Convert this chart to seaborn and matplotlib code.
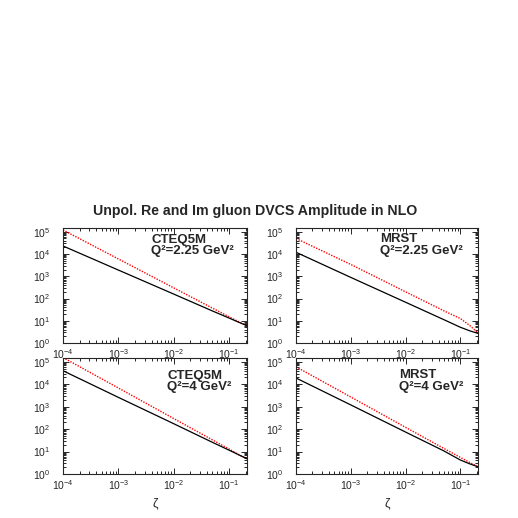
import matplotlib
matplotlib.use('Agg')
import matplotlib.pyplot as plt
import seaborn as sns
import pandas as pd
import numpy as np
from matplotlib.ticker import LogLocator, NullFormatter

# ── Data ─────────────────────────────────────────────────
zeta = [1e-4, 1e-3, 1e-2, 0.05, 0.1, 0.15, 0.21]

cteq_225_im = [2.3e4, 1.9e3, 158, 27.5, 13.2, 8.5, 6.0]
cteq_225_re = [1.2e5, 6.0e3, 300, 37, 15, 8.9, 6.0]
mrst_225_im = [1.2e4, 890, 68, 11.2, 5.1, 3.5, 2.7]
mrst_225_re = [5.0e4, 3400, 200, 28, 12.6, 6.0, 2.8]
cteq_4_im = [4.0e4, 2.6e3, 174, 25.7, 11.5, 7.1, 4.8]
cteq_4_re = [1.55e5, 6.8e3, 295, 33, 12.9, 7.2, 4.8]
mrst_4_im = [1.9e4, 1.2e3, 74, 10.7, 4.2, 2.8, 2.1]
mrst_4_re = [6.0e4, 2.7e3, 120, 13.8, 5.5, 3.2, 2.1]

panels = [
    ('CTEQ5M', '2.25', cteq_225_im, cteq_225_re),
    ('MRST', '2.25', mrst_225_im, mrst_225_re),
    ('CTEQ5M', '4', cteq_4_im, cteq_4_re),
    ('MRST', '4', mrst_4_im, mrst_4_re),
]

sns.set_theme(style='ticks')
plt.rcParams['font.family'] = ['Liberation Sans', 'DejaVu Sans']
plt.rcParams['mathtext.default'] = 'regular'

fig = plt.figure(figsize=(5.18, 5.18), dpi=100)
W = 518.0
# axes boxes in pixels: left, top, right, bottom
boxes = [(63, 228, 247, 343), (296, 228, 478, 343),
         (63, 358, 247, 474), (296, 358, 478, 474)]
# label block top-left (pixels)
label_pos = [(151, 233.5), (380, 233.5), (167, 369.5), (399, 369.5)]

for i, (pdf, q2, im, re) in enumerate(panels):
    l, t, r, b = boxes[i]
    ax = fig.add_axes([l / W, (W - b) / W, (r - l) / W, (b - t) / W])
    df = pd.DataFrame({'zeta': zeta, 'Im': im, 'Re': re})
    sns.lineplot(data=df, x='zeta', y='Re', ax=ax, color='red',
                 linestyle=(0, (1, 1)), linewidth=1.0)
    sns.lineplot(data=df, x='zeta', y='Im', ax=ax, color='black',
                 linewidth=0.9)
    ax.set_xscale('log')
    ax.set_yscale('log')
    ax.set_xlim(1e-4, 0.21)
    ax.set_ylim(1, 10 ** 5.17)
    ax.xaxis.set_major_locator(LogLocator(base=10, numticks=10))
    ax.xaxis.set_minor_locator(LogLocator(base=10, subs=np.arange(2, 10), numticks=20))
    ax.yaxis.set_major_locator(LogLocator(base=10, numticks=10))
    ax.yaxis.set_minor_locator(LogLocator(base=10, subs=np.arange(2, 10), numticks=20))
    ax.xaxis.set_minor_formatter(NullFormatter())
    ax.yaxis.set_minor_formatter(NullFormatter())
    ax.tick_params(which='both', direction='in', top=True, right=True,
                   labelsize=7.5, width=0.7)
    ax.tick_params(axis='x', pad=3)
    ax.tick_params(axis='y', pad=9)
    ax.tick_params(which='major', length=4.5)
    ax.tick_params(which='minor', length=2.5)
    for s in ax.spines.values():
        s.set_linewidth(0.8)
    ax.set_xlabel('ζ' if i >= 2 else '', fontsize=9, labelpad=4)
    ax.set_ylabel('')

    x1, y1 = label_pos[i]
    fig.text(x1 / W, (W - y1) / W, pdf + '\nQ²=' + q2 + ' GeV²', fontsize=9.5,
             fontweight='bold', ha='left', va='top', linespacing=0.92)

fig.text(255 / W, (W - 211) / W, 'Unpol. Re and Im gluon DVCS Amplitude in NLO',
         fontsize=10.2, fontweight='bold', ha='center', va='center')

plt.savefig('out.png', dpi=100)
